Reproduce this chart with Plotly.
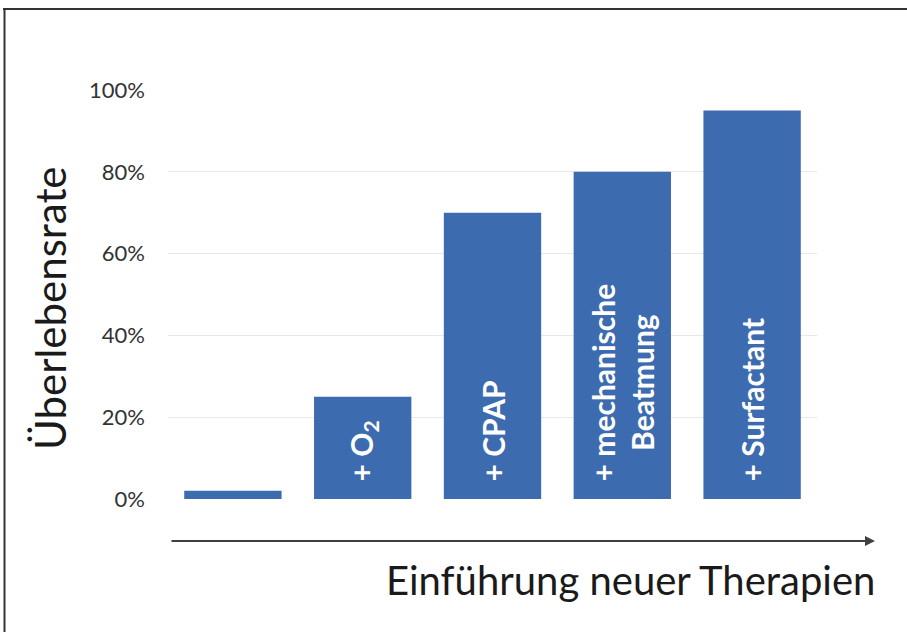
import plotly.graph_objects as go

# ---- data ----
categories = ["Basis", "O2", "CPAP", "Beatmung", "Surfactant"]
survival = [0.02, 0.25, 0.70, 0.80, 0.95]
bar_lines = [[], ["+ O<sub>2</sub>"], ["+ CPAP"], ["+ mechanische", "Beatmung"], ["+ Surfactant"]]
tick_vals = [0, 0.2, 0.4, 0.6, 0.8, 1.0]
tick_text = ["0%", "20%", "40%", "60%", "80%", "100%"]

W, H = 907, 632
L, R, T, B = 168, 90, 90, 133
PW, PH = W - L - R, H - T - B

def px_x(px):
    return (px - L) / PW

def px_y(py):
    return (H - B - py) / PH

pad = "\u00a0" * 2
texts = ["<br>".join("<b>" + pad + ln + "</b>" for ln in lines) for lines in bar_lines]

fig = go.Figure(
    go.Bar(
        x=categories,
        y=survival,
        marker=dict(color="#3D6BAF", line=dict(width=0)),
        text=texts,
        textposition="inside",
        insidetextanchor="start",
        textangle=-90,
        constraintext="none",
        textfont=dict(family="Lato", size=30, color="white"),
        hoverinfo="skip",
    )
)

fig.update_layout(
    width=W,
    height=H,
    margin=dict(l=L, r=R, t=T, b=B, pad=0),
    paper_bgcolor="white",
    plot_bgcolor="white",
    bargap=0.25,
    showlegend=False,
    xaxis=dict(showticklabels=False, showgrid=False, zeroline=False, showline=False, ticks=""),
    yaxis=dict(
        range=[0, 1.0],
        tickvals=tick_vals,
        ticktext=tick_text,
        showgrid=True,
        gridcolor="#e8e8e8",
        gridwidth=1,
        zeroline=False,
        showline=False,
        ticks="",
        ticklabelstandoff=22,
        tickfont=dict(family="Lato", size=22, color="#333333"),
    ),
    font=dict(family="Lato"),
)

# y-axis title
fig.add_annotation(
    text="Überlebensrate",
    xref="paper", yref="paper",
    x=px_x(50), y=px_y(308),
    textangle=-90,
    showarrow=False,
    font=dict(family="Lato", size=42, color="#1a1a1a"),
    xanchor="center", yanchor="middle",
)

# x-axis title
fig.add_annotation(
    text="Einführung neuer Therapien",
    xref="paper", yref="paper",
    x=px_x(877), y=px_y(580),
    showarrow=False,
    font=dict(family="Lato", size=40, color="#1a1a1a"),
    xanchor="right", yanchor="middle",
)

# arrow along x
fig.add_annotation(
    xref="paper", yref="paper",
    x=px_x(875), y=px_y(541),
    ax=-(875 - 170), ay=0,
    axref="pixel", ayref="pixel",
    text="",
    showarrow=True,
    arrowhead=2,
    arrowsize=1,
    arrowwidth=2,
    arrowcolor="#404040",
    standoff=0,
)

# image frame (top and left border)
fig.add_shape(type="line", xref="paper", yref="paper",
              x0=px_x(3), x1=px_x(907), y0=px_y(9), y1=px_y(9),
              line=dict(color="#333333", width=2))
fig.add_shape(type="line", xref="paper", yref="paper",
              x0=px_x(4.5), x1=px_x(4.5), y0=px_y(9), y1=px_y(632),
              line=dict(color="#333333", width=2))

fig.write_html("out.html")
